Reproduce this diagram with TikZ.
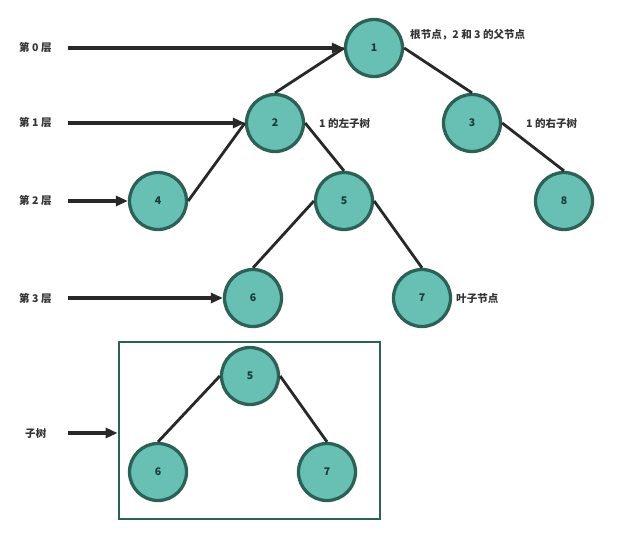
\documentclass[tikz,border=0pt]{standalone}
\usepackage{fontspec}
\setmainfont{Noto Sans CJK SC}
\usetikzlibrary{arrows.meta}
\definecolor{nodefill}{RGB}{104,192,180}
\definecolor{nodeedge}{RGB}{44,98,86}
\definecolor{nodetext}{RGB}{28,58,56}
\definecolor{labeltext}{RGB}{52,52,52}
\definecolor{linkdark}{RGB}{40,40,40}
\tikzset{
  treenode/.style={
    circle,
    draw=nodeedge,
    fill=nodefill,
    line width=2.8pt,
    minimum size=1.71cm,
    inner sep=0pt,
    text=nodetext,
    font=\bfseries\small
  },
  treeedge/.style={
    draw=linkdark,
    line width=2.4pt
  },
  levelarrow/.style={
    draw=linkdark,
    line width=2.6pt,
    -{Triangle[length=3.6mm,width=3mm]}
  },
  notetext/.style={
    text=labeltext,
    font=\bfseries\small,
    inner sep=0pt
  },
  subtreebox/.style={
    draw=nodeedge,
    line width=2.4pt
  }
}

\begin{document}
\begin{tikzpicture}[x=0.03cm,y=-0.03cm]

  % Page size (pixel units).
  \useasboundingbox (0,0) rectangle (621,533);

  % Full tree.
  \node[treenode] (n1) at (374, 48) {1};
  \node[treenode] (n2) at (275,123) {2};
  \node[treenode] (n3) at (472,123) {3};
  \node[treenode] (n4) at (158,201) {4};
  \node[treenode] (n5) at (344,201) {5};
  \node[treenode] (n8) at (564,201) {8};
  \node[treenode] (n6) at (253,298) {6};
  \node[treenode] (n7) at (422,298) {7};

  \draw[treeedge] (n2.north) -- (n1.west);
  \draw[treeedge] (n1.east)  -- (n3.north);
  \draw[treeedge] (n2.west)  -- (n4.east);
  \draw[treeedge] (n2.east)  -- (n5.north);
  \draw[treeedge] (n3.east)  -- (n8.north);
  \draw[treeedge] (n5.west)  -- (n6.north);
  \draw[treeedge] (n5.east)  -- (n7.north);

  % Notes beside the nodes.
  \node[notetext,anchor=west] (rootnote)  at (410, 35) {根节点，2 和 3 的父节点};
  \node[notetext,anchor=west] (leftnote)  at (319,123) {1 的左子树};
  \node[notetext,anchor=west] (rightnote) at (526,123) {1 的右子树};
  \node[notetext,anchor=west] (leafnote)  at (456,298) {叶子节点};

  % Subtree rooted at 5, framed.
  \node[subtreebox,minimum width=261*0.03cm,minimum height=177*0.03cm,
        inner sep=0pt] (subbox) at (249.5,430.5) {};
  \node[treenode] (s5) at (250,376) {5};
  \node[treenode] (s6) at (158,472) {6};
  \node[treenode] (s7) at (327,472) {7};
  \draw[treeedge] (s5.west) -- (s6.north);
  \draw[treeedge] (s5.east) -- (s7.north);

  % Level labels on the left with their arrows.
  \node[notetext,anchor=west] (lev0) at (19, 48) {第 0 层};
  \node[notetext,anchor=west] (lev1) at (19,123) {第 1 层};
  \node[notetext,anchor=west] (lev2) at (19,201) {第 2 层};
  \node[notetext,anchor=west] (lev3) at (19,298) {第 3 层};
  \node[notetext,anchor=west] (subl) at (25,433) {子树};

  \coordinate (a0) at (68, 48);
  \coordinate (a1) at (68,123);
  \coordinate (a2) at (68,201);
  \coordinate (a3) at (68,298);
  \coordinate (a4) at (68,433);

  \draw[levelarrow] (a0) -- (n1.west);
  \draw[levelarrow] (a1) -- (n2.west);
  \draw[levelarrow] (a2) -- (n4.west);
  \draw[levelarrow] (a3) -- (n6.west);
  \draw[levelarrow] (a4) -- (subbox.west |- a4);

\end{tikzpicture}
\end{document}
